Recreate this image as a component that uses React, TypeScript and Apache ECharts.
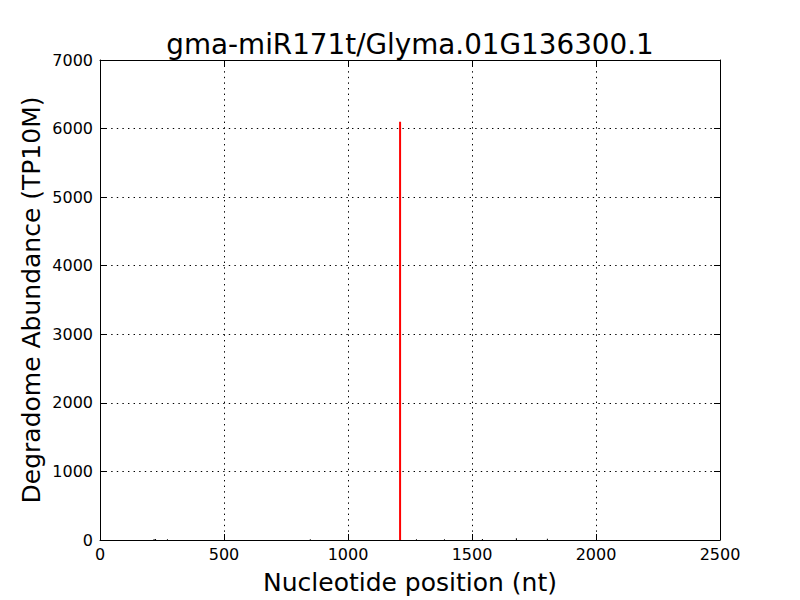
import React, { useEffect, useRef } from "react";
import * as echarts from "echarts";

const titleText = "gma-miR171t/Glyma.01G136300.1";
const xLabel = "Nucleotide position (nt)";
const yLabel = "Degradome Abundance (TP10M)";

const xMin = 0;
const xMax = 2500;
const xStep = 500;
const yMin = 0;
const yMax = 7000;
const yStep = 1000;

// background degradome reads (black)
const bgPositions = [220, 226, 274, 850, 1278, 1391, 1544, 1681, 1806];
const bgAbundance = [15, 15, 12, 10, 10, 10, 15, 25, 20];

// cleavage site peak (red)
const peakPositions = [1210];
const peakAbundance = [6100];

const FONT = "DejaVu Sans";

export default function App() {
  const ref = useRef<HTMLDivElement>(null);
  useEffect(() => {
    if (!ref.current) return;
    const chart = echarts.init(ref.current, null, { renderer: "svg" });
    const gridL = 100, gridR = 80, gridT = 60, gridB = 60;
    const axisCommon = {
      type: "value" as const,
      axisLine: { show: true, onZero: false, lineStyle: { color: "#000", width: 1 } },
      axisTick: { show: true, inside: true, length: 6, lineStyle: { color: "#000" } },
    };
    const fmt = (v: number) => String(v);
    const gridLine = { show: true, lineStyle: { color: "#000", type: [1.4, 4.2], width: 1 } };
    chart.setOption({
      animation: false,
      backgroundColor: "#fff",
      grid: { left: gridL, right: gridR, top: gridT, bottom: gridB, containLabel: false },
      xAxis: [
        {
          ...axisCommon,
          position: "bottom",
          min: xMin,
          max: xMax,
          interval: xStep,
          axisLabel: { color: "#000", fontFamily: FONT, fontSize: 16, margin: 6, formatter: fmt },
          splitLine: gridLine,
        },
        {
          ...axisCommon,
          position: "top",
          min: xMin,
          max: xMax,
          interval: xStep,
          axisLabel: { show: false },
          splitLine: { show: false },
        },
      ],
      yAxis: [
        {
          ...axisCommon,
          position: "left",
          min: yMin,
          max: yMax,
          interval: yStep,
          axisLabel: { color: "#000", fontFamily: FONT, fontSize: 16, margin: 7, formatter: fmt },
          splitLine: gridLine,
        },
        {
          ...axisCommon,
          position: "right",
          min: yMin,
          max: yMax,
          interval: yStep,
          axisLabel: { show: false },
          splitLine: { show: false },
        },
      ],
      series: [
        {
          type: "bar",
          xAxisIndex: 0,
          yAxisIndex: 0,
          barWidth: 1,
          itemStyle: { color: "#000" },
          data: bgPositions.map((p, i) => [p, bgAbundance[i]]),
        },
        {
          type: "bar",
          xAxisIndex: 0,
          yAxisIndex: 0,
          barWidth: 2,
          barGap: "-100%",
          itemStyle: { color: "#ff0000" },
          data: peakPositions.map((p, i) => [p, peakAbundance[i]]),
        },
      ],
      graphic: [
        {
          type: "text",
          x: 410,
          y: 44,
          style: {
            text: titleText,
            fontFamily: FONT,
            fontSize: 27.8,
            fill: "#000",
            align: "center",
            verticalAlign: "middle",
          },
        },
        {
          type: "text",
          x: 410,
          y: 582,
          style: {
            text: xLabel,
            fontFamily: FONT,
            fontSize: 25,
            fill: "#000",
            align: "center",
            verticalAlign: "middle",
          },
        },
        {
          type: "text",
          x: 31,
          y: 300,
          rotation: Math.PI / 2,
          style: {
            text: yLabel,
            fontFamily: FONT,
            fontSize: 25,
            fill: "#000",
            align: "center",
            verticalAlign: "middle",
          },
        },
      ],
    });
    return () => chart.dispose();
  }, []);
  return (
    <div
      ref={ref}
      style={{ position: "fixed", left: 0, top: 0, width: 800, height: 600 }}
    />
  );
}
